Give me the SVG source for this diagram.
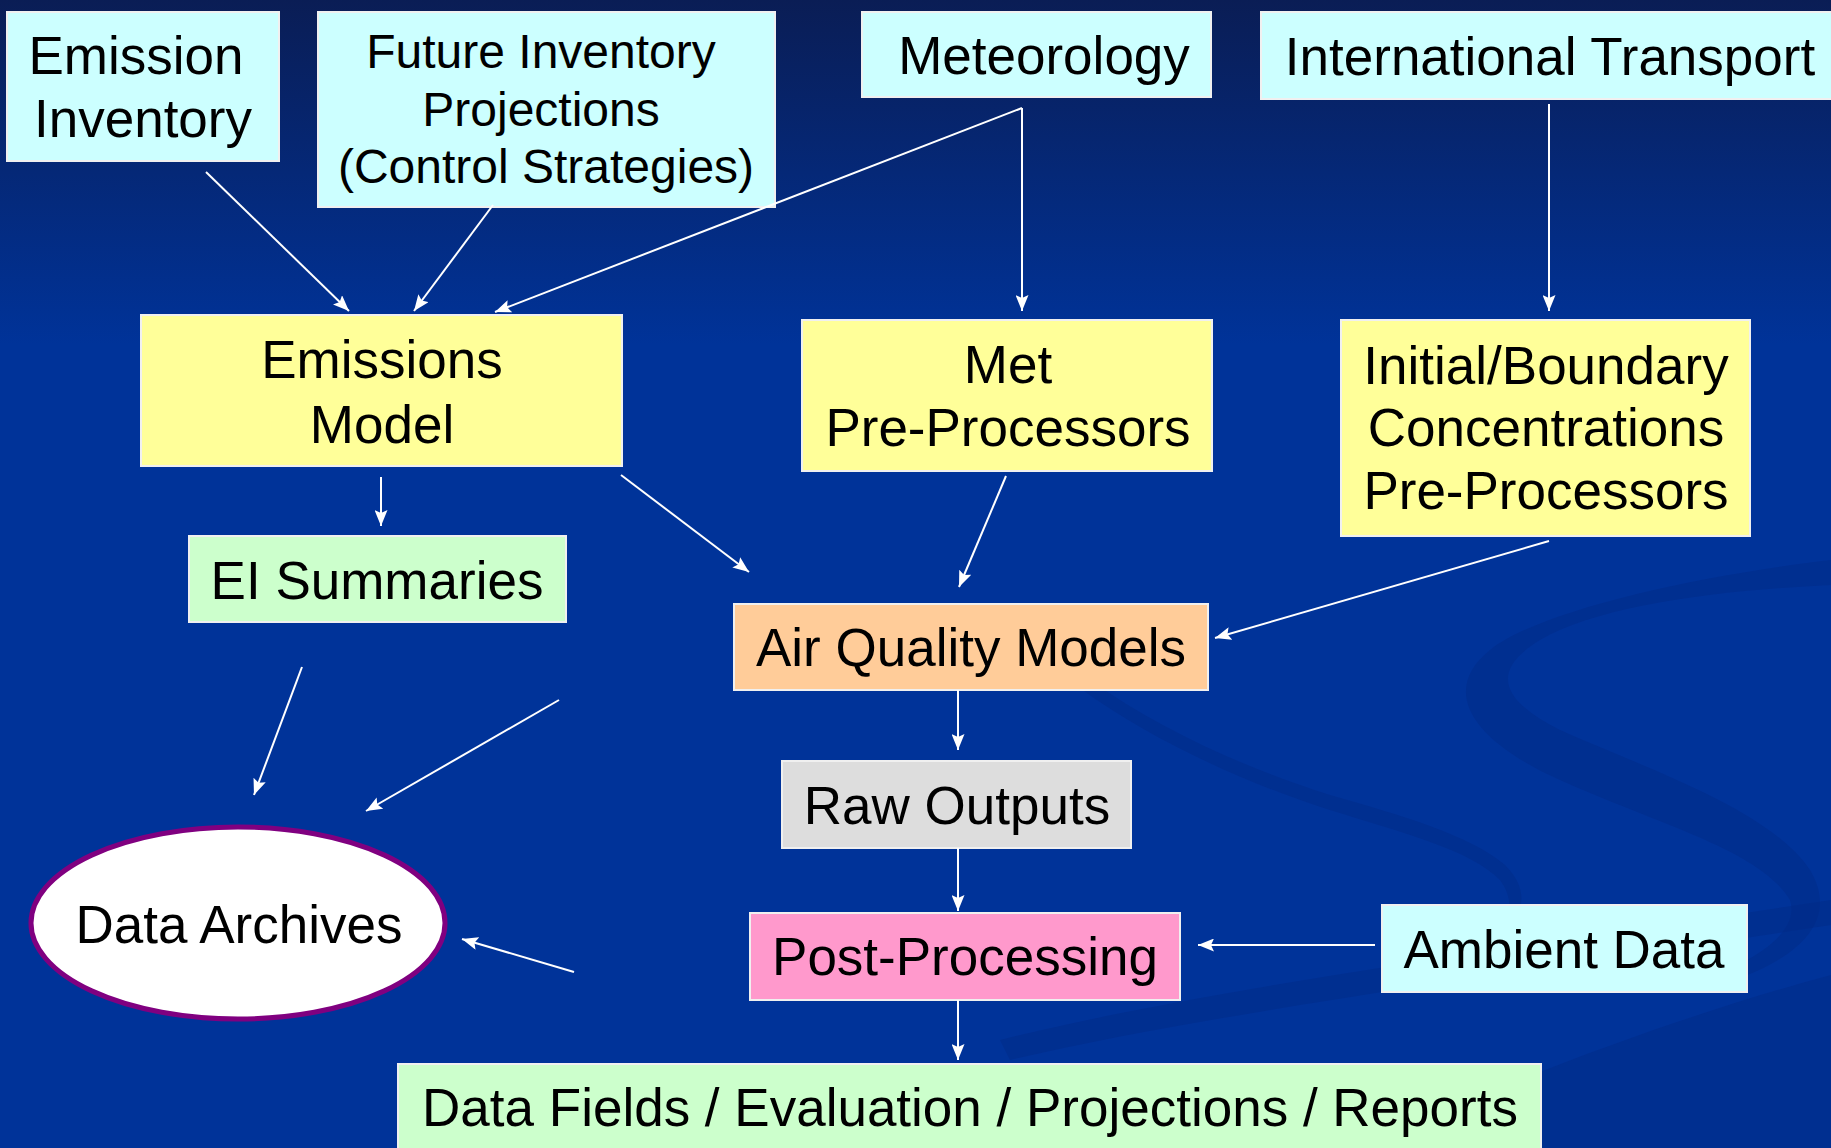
<svg xmlns="http://www.w3.org/2000/svg" width="1831" height="1148" viewBox="0 0 1831 1148">
<defs>
<linearGradient id="bg" x1="0" y1="0" x2="0" y2="1">
<stop offset="0" stop-color="#0a1d55"/>
<stop offset="0.3" stop-color="#003399"/>
<stop offset="1" stop-color="#003399"/>
</linearGradient>
<marker id="arr" markerUnits="userSpaceOnUse" markerWidth="17" markerHeight="13" refX="16" refY="6.5" orient="auto">
<path d="M0,0 L16,6.5 L0,13 L3,6.5 Z" fill="#ffffff"/>
</marker>
<style>
.box{stroke:#f0f0f0;stroke-width:2}
.cyan{fill:#CCFFFF}
.yellow{fill:#FFFF99}
.green{fill:#CCFFCC}
.orange{fill:#FFCC99}
.gray{fill:#DDDDDD}
.pink{fill:#FF99CC}
text{font-family:"Liberation Sans",Arial,sans-serif;font-size:53px;fill:#000;text-anchor:middle}
.sm{font-size:48px}
.conn line{stroke:#ffffff;stroke-width:2;marker-end:url(#arr)}
.swirl{fill:#002b86;opacity:0.45}
</style>
</defs>
<rect x="0" y="0" width="1831" height="1148" fill="url(#bg)"/>
<g id="background-swirl">
<path class="swirl" d="M1831,560 C1700,575 1540,610 1490,650 C1440,690 1470,740 1560,780 C1660,825 1760,850 1790,900 C1800,930 1760,960 1700,980 L1720,985 C1800,960 1840,920 1810,870 C1770,810 1650,770 1560,730 C1500,700 1490,670 1540,640 C1600,605 1720,590 1831,585 Z"/>
<path class="swirl" d="M1080,688 C1150,740 1250,785 1330,810 C1410,835 1470,850 1500,880 C1515,900 1510,920 1500,935 C1525,915 1530,890 1505,865 C1470,835 1400,815 1330,795 C1250,770 1160,730 1090,680 Z"/>
<path class="swirl" d="M1000,1040 C1200,990 1500,950 1831,900 L1831,925 C1500,975 1200,1015 1010,1060 Z"/>
<path class="swirl" d="M1371,1148 C1500,1080 1700,1010 1831,975 L1831,1148 Z"/>
</g>
<g id="emission-inventory">
<rect class="box cyan" x="7" y="12" width="272" height="149"/>
<text x="136" y="74">Emission</text>
<text x="143" y="137">Inventory</text>
</g>
<g id="future-inventory">
<rect class="box cyan" x="318" y="12" width="457" height="195"/>
<text class="sm" x="541" y="68">Future Inventory</text>
<text class="sm" x="541" y="126">Projections</text>
<text class="sm" x="546" y="183">(Control Strategies)</text>
</g>
<g id="meteorology">
<rect class="box cyan" x="862" y="12" width="349" height="85"/>
<text x="1044" y="74">Meteorology</text>
</g>
<g id="international-transport">
<rect class="box cyan" x="1261" y="12" width="580" height="87"/>
<text x="1550" y="75">International Transport</text>
</g>
<g id="emissions-model">
<rect class="box yellow" x="141" y="315" width="481" height="151"/>
<text x="382" y="378">Emissions</text>
<text x="382" y="443">Model</text>
</g>
<g id="met-pre-processors">
<rect class="box yellow" x="802" y="320" width="410" height="151"/>
<text x="1008" y="383">Met</text>
<text x="1008" y="446">Pre-Processors</text>
</g>
<g id="initial-boundary">
<rect class="box yellow" x="1341" y="320" width="409" height="216"/>
<text x="1546" y="384">Initial/Boundary</text>
<text x="1546" y="446">Concentrations</text>
<text x="1546" y="509">Pre-Processors</text>
</g>
<g id="ei-summaries">
<rect class="box green" x="189" y="536" width="377" height="86"/>
<text x="377" y="599">EI Summaries</text>
</g>
<g id="air-quality-models">
<rect class="box orange" x="734" y="604" width="474" height="86"/>
<text x="971" y="666">Air Quality Models</text>
</g>
<g id="raw-outputs">
<rect class="box gray" x="782" y="761" width="349" height="87"/>
<text x="957" y="824">Raw Outputs</text>
</g>
<g id="post-processing">
<rect class="box pink" x="750" y="913" width="430" height="87"/>
<text x="965" y="975">Post-Processing</text>
</g>
<g id="ambient-data">
<rect class="box cyan" x="1382" y="905" width="365" height="87"/>
<text x="1564" y="968">Ambient Data</text>
</g>
<g id="data-fields">
<rect class="box green" x="398" y="1064" width="1143" height="92"/>
<text x="970" y="1126">Data Fields / Evaluation / Projections / Reports</text>
</g>
<g id="data-archives">
<ellipse cx="238" cy="923" rx="207" ry="96" fill="#ffffff" stroke="#800080" stroke-width="5"/>
<text x="239" y="943">Data Archives</text>
</g>
<g id="connectors" class="conn">
<line x1="206" y1="172" x2="349" y2="311"/>
<line x1="493" y1="205" x2="414" y2="311"/>
<line x1="1022" y1="108" x2="495" y2="312"/>
<line x1="1022" y1="108" x2="1022" y2="311"/>
<line x1="1549" y1="104" x2="1549" y2="311"/>
<line x1="381" y1="477" x2="381" y2="526"/>
<line x1="621" y1="475" x2="749" y2="572"/>
<line x1="1006" y1="476" x2="959" y2="587"/>
<line x1="1549" y1="541" x2="1215" y2="638"/>
<line x1="302" y1="667" x2="254" y2="795"/>
<line x1="559" y1="700" x2="366" y2="811"/>
<line x1="574" y1="972" x2="462" y2="939"/>
<line x1="958" y1="690" x2="958" y2="750"/>
<line x1="958" y1="848" x2="958" y2="911"/>
<line x1="1375" y1="945" x2="1198" y2="945"/>
<line x1="958" y1="1000" x2="958" y2="1060"/>
</g>
</svg>
